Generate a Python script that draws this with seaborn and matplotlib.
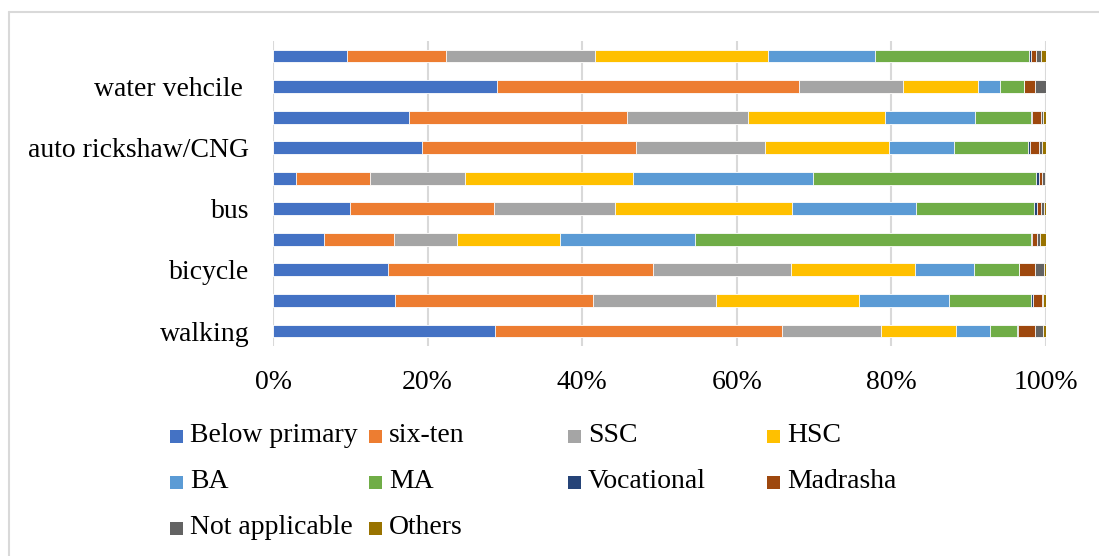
import numpy as np
import pandas as pd
import matplotlib.pyplot as plt
import seaborn as sns
from matplotlib.lines import Line2D
from matplotlib.patches import Rectangle
from matplotlib.ticker import PercentFormatter

sns.set_theme(style="white")
plt.rcParams['font.family'] = ['Liberation Serif', 'DejaVu Serif']

# bars from bottom (walking) to top; Excel skipped every other label
modes = ["walking", "", "bicycle", "", "bus", "", "auto rickshaw/CNG", "", "water vehcile ", ""]

levels = ["Below primary", "six-ten", "SSC", "HSC", "BA", "MA",
          "Vocational", "Madrasha", "Not applicable", "Others"]
colors = ["#4472C4", "#ED7D31", "#A5A5A5", "#FFC000", "#5B9BD5", "#70AD47",
          "#264478", "#9E480E", "#636363", "#997300"]

below_primary = [28.7, 15.8, 14.9, 6.6, 10.0, 3.0, 19.3, 17.6, 29.0, 9.6]
six_ten = [37.2, 25.6, 34.3, 9.1, 18.6, 9.5, 27.6, 28.2, 39.1, 12.8]
ssc = [12.8, 15.9, 17.8, 8.1, 15.7, 12.3, 16.8, 15.6, 13.4, 19.2]
hsc = [9.8, 18.5, 16.1, 13.3, 22.8, 21.8, 16.0, 17.8, 9.7, 22.5]
ba = [4.4, 11.6, 7.6, 17.5, 16.1, 23.3, 8.4, 11.6, 2.9, 13.8]
ma = [3.5, 10.7, 5.8, 43.5, 15.2, 28.8, 9.6, 7.3, 3.0, 19.9]
vocational = [0.1, 0.2, 0.0, 0.1, 0.4, 0.4, 0.2, 0.1, 0.0, 0.3]
madrasha = [2.2, 1.2, 2.1, 0.7, 0.6, 0.4, 1.2, 1.1, 1.5, 0.6]
not_applicable = [1.0, 0.1, 1.1, 0.3, 0.3, 0.4, 0.4, 0.3, 1.4, 0.7]
others = [0.4, 0.4, 0.3, 0.8, 0.3, 0.1, 0.5, 0.4, 0.0, 0.6]

series = [below_primary, six_ten, ssc, hsc, ba, ma,
          vocational, madrasha, not_applicable, others]

W, H = 1099, 556
fig = plt.figure(figsize=(W / 100, H / 100), dpi=100)
ax = fig.add_axes([273 / W, 1 - 346.3 / H, 773 / W, 305.6 / H])

# 100% stacked: normalise each bar, then overlay cumulative bars (longest first)
vals = np.array(series, dtype=float)
vals = vals / vals.sum(axis=0)
cum = np.cumsum(vals, axis=0)
keys = [f"m{i}" for i in range(len(modes))]
order = keys[::-1]  # top bar first

for i in range(len(levels) - 1, -1, -1):
    df = pd.DataFrame({"mode": keys, "share": cum[i]})
    sns.barplot(data=df, x="share", y="mode", order=order, orient="h",
                color=colors[i], saturation=1, width=0.42,
                edgecolor="white", linewidth=0.6, ax=ax, zorder=3)

ax.set_xlim(0, 1)
ax.set_ylim(len(modes) - 0.5, -0.5)
ax.xaxis.set_major_locator(plt.FixedLocator(np.linspace(0, 1, 6)))
ax.xaxis.set_major_formatter(PercentFormatter(1.0, decimals=0))
ax.set_yticks(range(len(modes)))
ax.set_yticklabels(modes[::-1])
ax.set_xlabel("")
ax.set_ylabel("")
ax.grid(axis="x", color="#d9d9d9", linewidth=1.5, zorder=0)
ax.grid(axis="y", visible=False)
for s in ax.spines.values():
    s.set_visible(False)
ax.tick_params(axis="y", length=0, pad=17, labelsize=20, colors="black")
ax.tick_params(axis="x", length=0, pad=17, labelsize=20, colors="black")

# legend laid out like Excel: equal-width columns
for i, (name, c) in enumerate(zip(levels, colors)):
    row, col = divmod(i, 4)
    x0 = 170 + col * 199
    yc = 436 + row * 46
    fig.add_artist(Rectangle((x0 / W, 1 - (yc + 6.5) / H), 13 / W, 13 / H,
                             transform=fig.transFigure, facecolor=c,
                             edgecolor="none"))
    fig.text((x0 + 20) / W, 1 - yc / H, name, fontsize=20, va="center",
             ha="left", color="black")

# chart border (left and top visible)
fig.add_artist(Line2D([9 / W, 9 / W], [0, 1 - 12 / H], transform=fig.transFigure,
                      color="#d9d9d9", linewidth=1.5))
fig.add_artist(Line2D([9 / W, 1], [1 - 12 / H, 1 - 12 / H], transform=fig.transFigure,
                      color="#d9d9d9", linewidth=1.5))

fig.savefig("out.png", dpi=100, facecolor="white")
